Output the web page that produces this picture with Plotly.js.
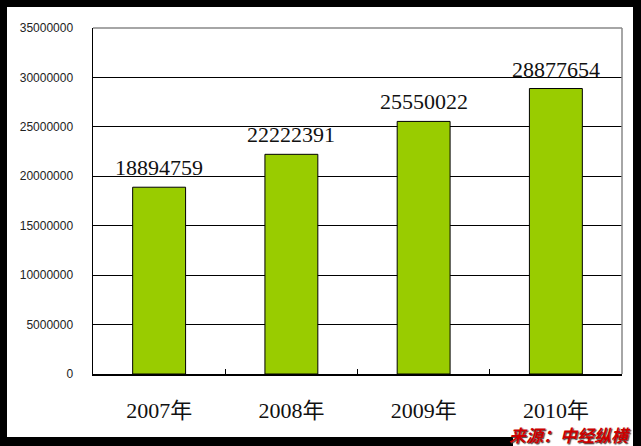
<!DOCTYPE html>
<html>
<head>
<meta charset="utf-8">
<script src="https://cdn.plot.ly/plotly-3.0.1.min.js"></script>
<style>body{margin:0;padding:0;background:#fff;}#chart{width:641px;height:446px;}</style>
</head>
<body>
<div id="chart"></div>
<script>
var categories = ['2007年', '2008年', '2009年', '2010年'];
var values = [18894759, 22222391, 25550022, 28877654];
var yTicks = [0, 5000000, 10000000, 15000000, 20000000, 25000000, 30000000, 35000000];
var sourceText = '来源：中经纵横';

var W = 641, H = 446, L = 93, R = 622, T = 28, B = 374;
function px(x) { return (x - L) / (R - L); }
function py(y) { return (B - y) / (B - T); }

var serif = '"Liberation Serif", "DejaVu Serif", "Noto Sans CJK SC", serif';

var trace = {
  type: 'bar',
  x: categories,
  y: values,
  width: 0.4,
  marker: { color: '#99CC00', line: { color: '#000', width: 1 } },
  hoverinfo: 'none'
};

var annotations = categories.map(function (c, i) {
  return {
    x: c, y: values[i], xref: 'x', yref: 'y',
    text: String(values[i]), showarrow: false,
    yanchor: 'bottom', yshift: 5,
    font: { family: serif, size: 22, color: '#111' }
  };
});
annotations.push({
  xref: 'paper', yref: 'paper', x: px(633), y: py(434),
  xanchor: 'right', yanchor: 'middle', showarrow: false,
  text: sourceText,
  font: { family: '"Noto Sans CJK SC", sans-serif', size: 17, color: '#CC0000', weight: 'bold', style: 'italic', shadow: '1px 1px 1px #444' }
});

var black = { type: 'rect', xref: 'paper', yref: 'paper', fillcolor: '#000', line: { width: 0 }, layer: 'above' };
function rect(x0, x1, y0, y1, col) { return Object.assign({}, black, { x0: px(x0), x1: px(x1), y0: py(y1), y1: py(y0), fillcolor: col || '#000' }); }

var shapes = [
  { type: 'line', xref: 'paper', yref: 'paper', x0: 0, x1: 1, y0: 1, y1: 1, line: { color: '#888', width: 1.5 } },
  { type: 'line', xref: 'paper', yref: 'paper', x0: 1, x1: 1, y0: 0, y1: 1, line: { color: '#888', width: 1.5 } },
  rect(0, 7, 0, H),
  rect(633, W, 0, H),
  rect(0, W, 0, 7),
  rect(0, W, 437, H),
  rect(513, 633, 425, H, '#fff')
];

var layout = {
  width: W, height: H,
  margin: { l: L, r: W - R, t: T, b: H - B, pad: 0 },
  paper_bgcolor: '#fff', plot_bgcolor: '#fff',
  showlegend: false,
  bargap: 0.6,
  xaxis: {
    type: 'category',
    showline: true, linecolor: '#000', linewidth: 1.5,
    showgrid: false,
    ticks: 'inside', tickson: 'boundaries', ticklen: 5, tickcolor: '#000', tickwidth: 1,
    tickfont: { family: serif, size: 22, color: '#111' },
    ticklabelstandoff: 16,
    fixedrange: true
  },
  yaxis: {
    range: [0, 35000000],
    tickvals: yTicks,
    ticktext: yTicks.map(function (v) { return String(v); }),
    showline: true, linecolor: '#000', linewidth: 1.5,
    showgrid: true, gridcolor: '#000', gridwidth: 1,
    zeroline: false,
    ticks: '',
    tickfont: { family: 'Arial, "Liberation Sans", sans-serif', size: 12, color: '#222' },
    ticklabelstandoff: 16,
    fixedrange: true
  },
  annotations: annotations,
  shapes: shapes
};

Plotly.newPlot('chart', [trace], layout, { staticPlot: true, displayModeBar: false });
</script>
</body>
</html>
